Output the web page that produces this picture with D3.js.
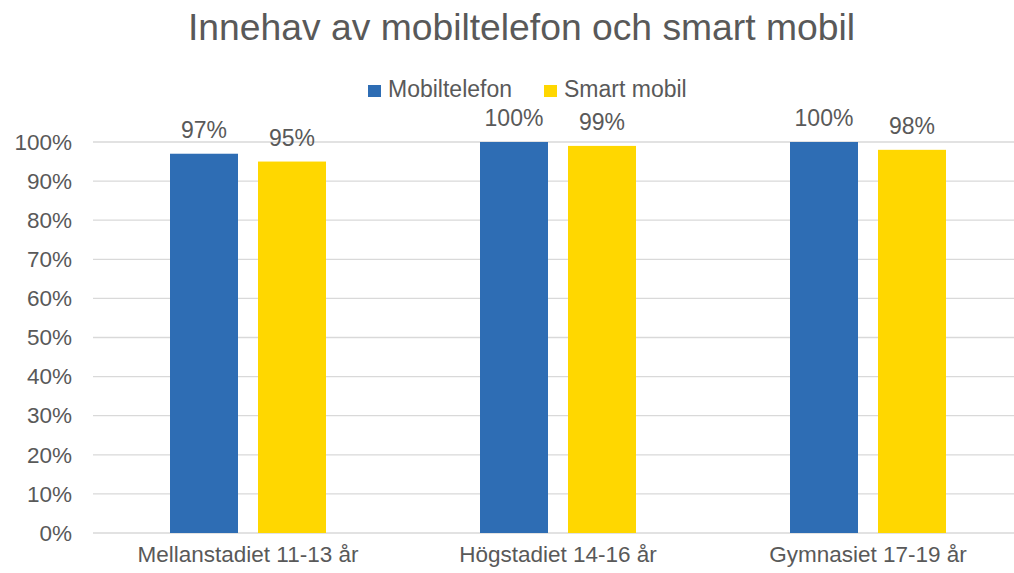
<!DOCTYPE html>
<html lang="sv">
<head>
<meta charset="utf-8">
<title>Innehav av mobiltelefon och smart mobil</title>
<script src="https://d3js.org/d3.v7.min.js"></script>
<style>
  body { margin: 0; background: #fff; }
  text { font-family: "Liberation Sans", Arial, sans-serif; fill: #595959; }
</style>
</head>
<body>
<script>
// data
const categories = ["Mellanstadiet 11-13 år", "Högstadiet 14-16 år", "Gymnasiet 17-19 år"];
const series = ["Mobiltelefon", "Smart mobil"];
const mobiltelefon = [97, 100, 100];
const smartMobil = [95, 99, 98];
const yTicks = [0, 10, 20, 30, 40, 50, 60, 70, 80, 90, 100];
const colors = ["#2e6db4", "#ffd700"];

const width = 1014, height = 573;
const values = [mobiltelefon, smartMobil];

const svg = d3.select("body").append("svg")
  .attr("width", width)
  .attr("height", height);

// scales
const x0 = d3.scaleBand().domain(categories).range([93, 1023]).padding(0);
const x1 = d3.scaleBand().domain(series).range([77, 233]).paddingInner(0.2273).paddingOuter(0);
const y = d3.scaleLinear().domain([0, 100]).range([533, 142]);

// gridlines
svg.append("g").selectAll("line")
  .data(yTicks)
  .join("line")
  .attr("x1", 93).attr("x2", width)
  .attr("y1", d => y(d)).attr("y2", d => y(d))
  .attr("stroke", "#d9d9d9")
  .attr("stroke-width", 1.3);

// y axis labels
const yAxis = d3.axisLeft(y).tickValues(yTicks).tickFormat(d => d + "%").tickSize(0).tickPadding(0);
const yg = svg.append("g").attr("transform", "translate(72,0)").call(yAxis);
yg.select(".domain").remove();
yg.selectAll("text")
  .attr("font-size", 22.5)
  .attr("fill", "#595959")
  .attr("font-family", "Liberation Sans, Arial, sans-serif");

// bars
const groups = svg.append("g").selectAll("g")
  .data(categories)
  .join("g")
  .attr("transform", d => "translate(" + x0(d) + ",0)");

groups.selectAll("rect")
  .data((d, i) => series.map((s, j) => ({ s: s, v: values[j][i], j: j })))
  .join("rect")
  .attr("x", d => x1(d.s))
  .attr("width", x1.bandwidth())
  .attr("y", d => y(d.v))
  .attr("height", d => y(0) - y(d.v))
  .attr("fill", d => colors[d.j]);

groups.selectAll("text.val")
  .data((d, i) => series.map((s, j) => ({ s: s, v: values[j][i] })))
  .join("text")
  .attr("class", "val")
  .attr("x", d => x1(d.s) + x1.bandwidth() / 2)
  .attr("y", d => y(d.v) - 16)
  .attr("text-anchor", "middle")
  .attr("font-size", 23)
  .text(d => d.v + "%");

// x axis labels
const xAxis = d3.axisBottom(x0).tickSize(0).tickPadding(0);
const xg = svg.append("g").attr("transform", "translate(0,546)").call(xAxis);
xg.select(".domain").remove();
xg.selectAll("text")
  .attr("font-size", 22.5)
  .attr("fill", "#595959")
  .attr("font-family", "Liberation Sans, Arial, sans-serif");

// title
svg.append("text")
  .attr("x", 188).attr("y", 40)
  .attr("font-size", 36)
  .attr("textLength", 667)
  .attr("lengthAdjust", "spacingAndGlyphs")
  .text("Innehav av mobiltelefon och smart mobil");

// legend
const legendX = [368, 544];
const legend = svg.append("g").selectAll("g")
  .data(series)
  .join("g")
  .attr("transform", (d, i) => "translate(" + legendX[i] + ",85)");
legend.append("rect")
  .attr("width", 13).attr("height", 12)
  .attr("fill", (d, i) => colors[i]);
legend.append("text")
  .attr("x", 20).attr("y", 12)
  .attr("font-size", 23)
  .text(d => d);
</script>
</body>
</html>
